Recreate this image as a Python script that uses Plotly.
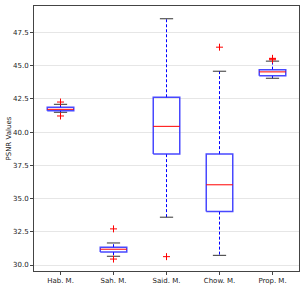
import plotly.graph_objects as go

categories = ["Hab. M.", "Sah. M.", "Said. M.", "Chow. M.", "Prop. M."]
q1 = [41.62, 30.98, 38.35, 34.02, 44.24]
median = [41.72, 31.19, 40.44, 36.04, 44.54]
q3 = [41.87, 31.34, 42.63, 38.35, 44.71]
whisker_low = [41.50, 30.66, 33.60, 30.73, 44.06]
whisker_high = [42.10, 31.66, 48.54, 44.59, 45.35]
outliers = [[42.27, 41.22], [32.72, 30.45], [30.63], [46.40], [45.45, 45.52, 45.56]]
yticks = [30.0, 32.5, 35.0, 37.5, 40.0, 42.5, 45.0, 47.5]

pos = list(range(1, len(categories) + 1))
bw = 0.25   # half box width
cw = 0.125  # half cap width

fig = go.Figure()
for p, a, m, b, lo, hi, outs in zip(pos, q1, median, q3, whisker_low, whisker_high, outliers):
    fig.add_trace(go.Scatter(x=[p, p], y=[b, hi], mode="lines",
                             line=dict(color="blue", width=1, dash="3px,2px"), hoverinfo="skip"))
    fig.add_trace(go.Scatter(x=[p, p], y=[a, lo], mode="lines",
                             line=dict(color="blue", width=1, dash="3px,2px"), hoverinfo="skip"))
    fig.add_trace(go.Scatter(x=[p - cw, p + cw], y=[hi, hi], mode="lines",
                             line=dict(color="#333333", width=1), hoverinfo="skip"))
    fig.add_trace(go.Scatter(x=[p - cw, p + cw], y=[lo, lo], mode="lines",
                             line=dict(color="#333333", width=1), hoverinfo="skip"))
    fig.add_trace(go.Scatter(x=[p - bw, p + bw, p + bw, p - bw, p - bw], y=[a, a, b, b, a], mode="lines",
                             line=dict(color="rgba(40,40,255,0.85)", width=1.5), hoverinfo="skip"))
    fig.add_trace(go.Scatter(x=[p - bw, p + bw], y=[m, m], mode="lines",
                             line=dict(color="red", width=1), hoverinfo="skip"))
    fig.add_trace(go.Scatter(x=[p] * len(outs), y=outs, mode="markers",
                             marker=dict(symbol="cross-thin", size=5, color="red",
                                         line=dict(color="red", width=1)),
                             hoverinfo="skip"))

axis_common = dict(showline=True, linecolor="#444444", linewidth=1, mirror=True,
                   ticks="outside", ticklen=3, tickcolor="#444444", automargin=False,
                   tickfont=dict(family="DejaVu Sans", size=7, color="#222222"), zeroline=False)

fig.update_layout(
    width=307, height=288,
    margin=dict(l=34, r=8, t=6, b=17),
    plot_bgcolor="white", paper_bgcolor="white",
    showlegend=False,
    xaxis=dict(range=[0.5, 5.5], tickvals=pos, ticktext=categories, showgrid=False, **axis_common),
    yaxis=dict(range=[29.55, 49.5], tickvals=yticks, ticktext=[f"{t:.1f}" for t in yticks],
               showgrid=True, gridcolor="#e6e6e6", gridwidth=1, **axis_common),
    annotations=[dict(text="PSNR Values", xref="paper", yref="paper", x=-0.098, y=0.5,
                      xanchor="center", yanchor="middle", textangle=-90, showarrow=False,
                      font=dict(family="DejaVu Sans", size=7, color="#222222"))],
)

fig.write_html("out.html", config={"displayModeBar": False},
               post_script="document.body.style.margin='0';document.body.style.overflow='hidden';")
